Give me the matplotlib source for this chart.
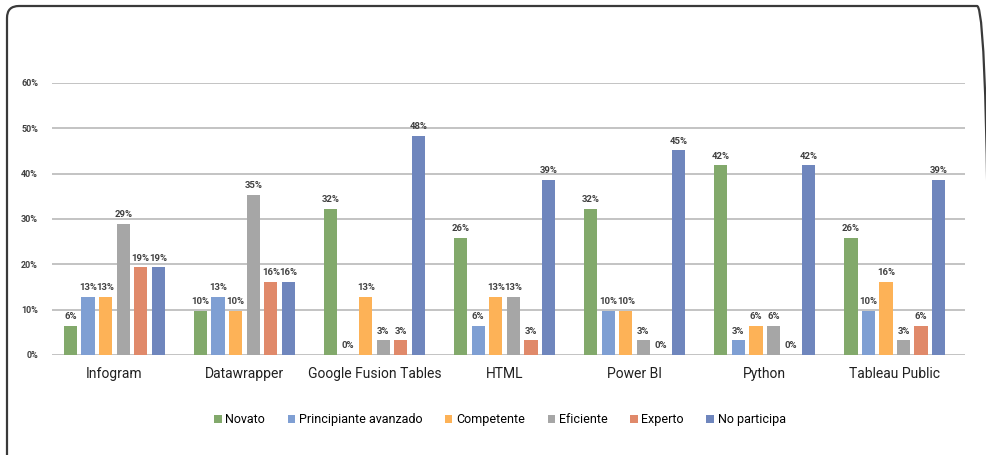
import matplotlib.pyplot as plt
import numpy as np
from matplotlib.patches import FancyBboxPatch

categories = ["Infogram", "Datawrapper", "Google Fusion Tables", "HTML",
              "Power BI", "Python", "Tableau Public"]
series = ["Novato", "Principiante avanzado", "Competente", "Eficiente",
          "Experto", "No participa"]

# percentages (label shows the rounded value)
novato = [6.5, 9.7, 32.3, 25.8, 32.3, 41.9, 25.8]
principiante = [12.9, 12.9, 0.0, 6.5, 9.7, 3.2, 9.7]
competente = [12.9, 9.7, 12.9, 12.9, 9.7, 6.5, 16.1]
eficiente = [29.0, 35.4, 3.2, 12.9, 3.2, 6.5, 3.2]
experto = [19.4, 16.1, 3.2, 3.2, 0.0, 0.0, 6.5]
no_participa = [19.4, 16.1, 48.4, 38.7, 45.2, 41.9, 38.7]

values = [novato, principiante, competente, eficiente, experto, no_participa]
colors = ["#82a96b", "#7f9fd3", "#fdb257", "#a6a6a6", "#e0896a", "#6f86bd"]

plt.rcParams['font.family'] = ['Roboto', 'DejaVu Sans']

fig = plt.figure(figsize=(9.86, 4.55), dpi=100)
ax = fig.add_axes([0.0527, 0.2198, 0.9260, 0.5978])

x = np.arange(len(categories))
step = 0.135
width = 0.102
for i, (name, vals, col) in enumerate(zip(series, values, colors)):
    pos = x + (i - 2.5) * step
    ax.bar(pos, vals, width, color=col, label=name, zorder=3)
    for px, v in zip(pos, vals):
        ax.text(px, v + 1.0, f"{round(v)}%", ha="center", va="bottom",
                fontsize=6.8, fontweight="bold", color="#404040", zorder=4)

ax.set_xlim(-0.48, 6.54)
ax.set_ylim(0, 60)
ax.set_yticks(range(0, 61, 10))
ax.set_yticklabels([f"{t}%" for t in range(0, 61, 10)])
ax.grid(axis="y", color="#c3c3c3", linewidth=1.4, zorder=0)
for s in ax.spines.values():
    s.set_visible(False)
ax.tick_params(axis="both", length=0)
ax.tick_params(axis="y", labelsize=6.5, labelcolor="#404040", pad=10)
for lab in ax.get_yticklabels():
    lab.set_fontweight("bold")
ax.set_xticks(x)
ax.set_xticklabels(categories, fontsize=10, color="#202020")
ax.tick_params(axis="x", pad=9)

fig.legend(loc="center", bbox_to_anchor=(0.507, 0.078), ncol=6, frameon=False,
           fontsize=9, handlelength=0.6, handleheight=0.6, handletextpad=0.3,
           columnspacing=1.8)

# rounded frame, in inches (right edge just off the picture)
frame = FancyBboxPatch((0.07, -0.3), 9.82, 4.49 + 0.3,
                       boxstyle="round,pad=0,rounding_size=0.12",
                       transform=fig.dpi_scale_trans, fill=False,
                       edgecolor="#3a3a3a", linewidth=1.6, clip_on=False)
fig.patches.append(frame)

fig.savefig("out.png", dpi=100)
